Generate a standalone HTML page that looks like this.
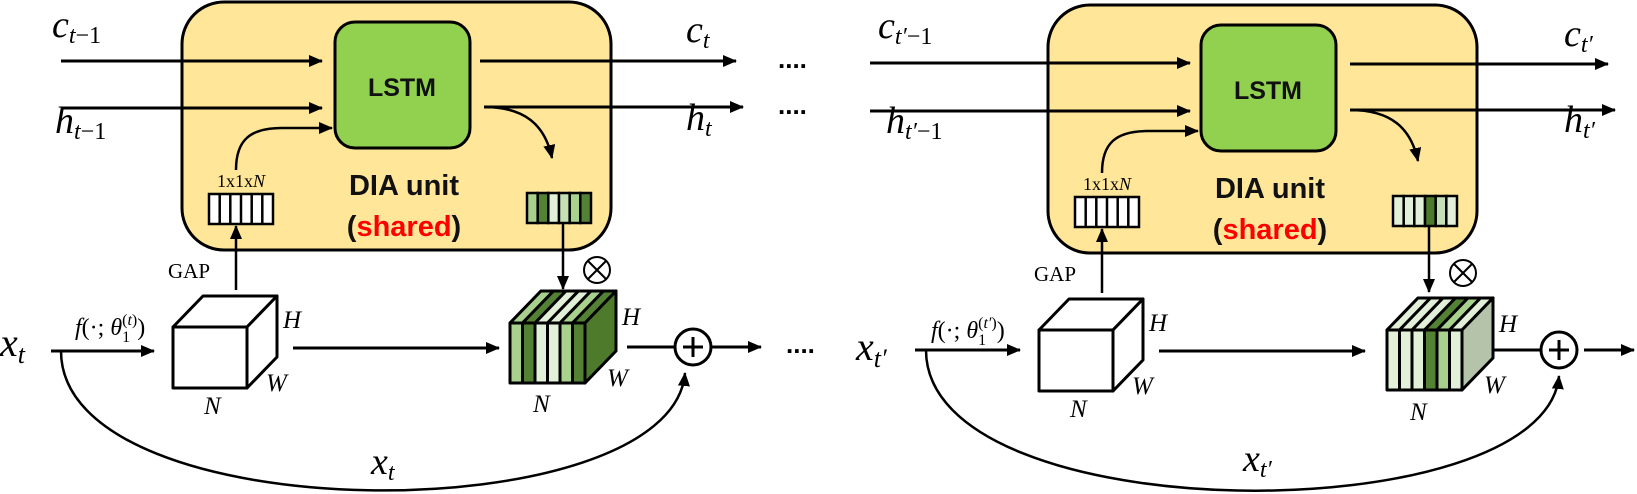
<!DOCTYPE html>
<html><head><meta charset="utf-8"><style>
html,body{margin:0;padding:0;background:#fff;}
svg{display:block;}
</style></head><body>
<svg width="1637" height="494" viewBox="0 0 1637 494" xmlns="http://www.w3.org/2000/svg">
<defs>
<marker id="ah2" markerWidth="14" markerHeight="12" refX="13" refY="6" orient="auto" markerUnits="userSpaceOnUse"><path d="M0,0 L14,6 L0,12 Z" fill="#000"/></marker>
</defs>

<g id="panelL">
<rect x="182" y="2" width="429" height="248" rx="42" fill="#FFE699" stroke="#000" stroke-width="3"/>
<rect x="335" y="22" width="135" height="126" rx="20" fill="#92D050" stroke="#000" stroke-width="3"/>
<text x="402" y="96" text-anchor="middle" font-family="Liberation Sans, sans-serif" font-weight="bold" font-size="25" fill="#111">LSTM</text>
<text x="404" y="195" text-anchor="middle" font-family="Liberation Sans, sans-serif" font-weight="bold" font-size="29" fill="#111">DIA unit</text>
<text x="404" y="236" text-anchor="middle" font-family="Liberation Sans, sans-serif" font-weight="bold" font-size="29" fill="#111">(<tspan fill="#FF0000">shared</tspan>)</text>
<text x="241" y="187" text-anchor="middle" font-family="Liberation Serif, DejaVu Serif, serif" font-size="18">1x1x<tspan font-style="italic">N</tspan></text>
<g stroke="#000" stroke-width="2.5">
<rect x="209" y="194" width="64" height="30" fill="#fff"/>
<line x1="219.7" y1="194" x2="219.7" y2="224"/><line x1="230.3" y1="194" x2="230.3" y2="224"/><line x1="241" y1="194" x2="241" y2="224"/><line x1="251.7" y1="194" x2="251.7" y2="224"/><line x1="262.3" y1="194" x2="262.3" y2="224"/>
</g>
<path d="M236,170 C236,140 250,128 282,128 L332,128" fill="none" stroke="#000" stroke-width="2.5" marker-end="url(#ah2)"/>
<path d="M484,107 C525,107 545,125 552,158" fill="none" stroke="#000" stroke-width="2.5" marker-end="url(#ah2)"/>
<path d="M236,290 L236,226" stroke="#000" stroke-width="2.5" marker-end="url(#ah2)"/>
<text x="168" y="278" font-family="Liberation Serif, DejaVu Serif, serif" font-size="21">GAP</text>
<path d="M563,224 L563,289" stroke="#000" stroke-width="2.5" marker-end="url(#ah2)"/>
<circle cx="597" cy="270" r="13" fill="none" stroke="#000" stroke-width="2"/>
<line x1="588" y1="261" x2="606" y2="279" stroke="#000" stroke-width="2"/><line x1="606" y1="261" x2="588" y2="279" stroke="#000" stroke-width="2"/>
<g stroke="#000" stroke-width="3" stroke-linejoin="round" fill="#fff">
<polygon points="173,327 203,296 277,296 247,327"/>
<polygon points="247,327 277,296 277,357 247,388"/>
<rect x="173" y="327" width="74" height="61"/>
</g>
<text x="283" y="328" font-family="Liberation Serif, DejaVu Serif, serif" font-style="italic" font-size="25">H</text>
<text x="266" y="391" font-family="Liberation Serif, DejaVu Serif, serif" font-style="italic" font-size="25">W</text>
<text x="204" y="414" font-family="Liberation Serif, DejaVu Serif, serif" font-style="italic" font-size="25">N</text>
<path d="M293,348 L499,348" stroke="#000" stroke-width="3" marker-end="url(#ah2)"/>
<line x1="627" y1="347" x2="675" y2="347" stroke="#000" stroke-width="3"/>
<circle cx="693" cy="347" r="18" fill="#fff" stroke="#000" stroke-width="3"/>
<line x1="683" y1="347" x2="703" y2="347" stroke="#000" stroke-width="3"/><line x1="693" y1="337" x2="693" y2="357" stroke="#000" stroke-width="3"/>
</g>

<g stroke="#000" stroke-width="2.5">
<rect x="527" y="193" width="10.7" height="30" fill="#A9D18E"/>
<rect x="537.7" y="193" width="10.7" height="30" fill="#548235"/>
<rect x="548.3" y="193" width="10.7" height="30" fill="#E2F0D9"/>
<rect x="559" y="193" width="10.7" height="30" fill="#C5E0B4"/>
<rect x="569.7" y="193" width="10.7" height="30" fill="#A9D18E"/>
<rect x="580.3" y="193" width="10.7" height="30" fill="#548235"/>
</g>
<g stroke="#000" stroke-width="3" stroke-linejoin="round">
<polygon points="510,323 541,291 616,291 585,323" fill="#fff"/>
<polygon points="510,323 541,291 553.5,291 522.5,323" fill="#A9D18E"/>
<polygon points="522.5,323 553.5,291 566,291 535,323" fill="#548235"/>
<polygon points="535,323 566,291 578.5,291 547.5,323" fill="#E2F0D9"/>
<polygon points="547.5,323 578.5,291 591,291 560,323" fill="#E2F0D9"/>
<polygon points="560,323 591,291 603.5,291 572.5,323" fill="#A9D18E"/>
<polygon points="572.5,323 603.5,291 616,291 585,323" fill="#548235"/>
<polygon points="585,323 616,291 616,351 585,383" fill="#4E7A2C"/>
<rect x="510" y="323" width="12.5" height="60" fill="#A9D18E"/>
<rect x="522.5" y="323" width="12.5" height="60" fill="#548235"/>
<rect x="535" y="323" width="12.5" height="60" fill="#E2F0D9"/>
<rect x="547.5" y="323" width="12.5" height="60" fill="#E2F0D9"/>
<rect x="560" y="323" width="12.5" height="60" fill="#A9D18E"/>
<rect x="572.5" y="323" width="12.5" height="60" fill="#548235"/>
</g>
<text x="622" y="325" font-family="Liberation Serif, DejaVu Serif, serif" font-style="italic" font-size="25">H</text>
<text x="607" y="386" font-family="Liberation Serif, DejaVu Serif, serif" font-style="italic" font-size="25">W</text>
<text x="533" y="412" font-family="Liberation Serif, DejaVu Serif, serif" font-style="italic" font-size="25">N</text>

<path d="M61,61 L322,61" stroke="#000" stroke-width="3" marker-end="url(#ah2)"/>
<path d="M61,108 L322,108" stroke="#000" stroke-width="3" marker-end="url(#ah2)"/>
<path d="M480,61 L736,61" stroke="#000" stroke-width="3" marker-end="url(#ah2)"/>
<path d="M484,107 L743,107" stroke="#000" stroke-width="3" marker-end="url(#ah2)"/>
<g font-family="Liberation Serif, DejaVu Serif, serif" font-style="italic">
<text x="52" y="37" font-size="38">c<tspan font-size="24" dy="6">t</tspan><tspan font-size="24" font-style="normal">−1</tspan></text>
<text x="55" y="133" font-size="38">h<tspan font-size="24" dy="6">t</tspan><tspan font-size="24" font-style="normal">−1</tspan></text>
<text x="686" y="42" font-size="38">c<tspan font-size="24" dy="6">t</tspan></text>
<text x="686" y="130" font-size="38">h<tspan font-size="24" dy="6">t</tspan></text>
<text x="0" y="356" font-size="40">x<tspan font-size="26" dy="7">t</tspan></text>
<text x="75" y="335" font-size="24">f<tspan font-style="normal">(·;</tspan> θ<tspan font-size="16" dy="7" font-style="normal">1</tspan><tspan font-size="16" dx="-8" dy="-17" font-style="normal">(</tspan><tspan font-size="16" dy="0">t</tspan><tspan font-size="16" font-style="normal">)</tspan><tspan font-style="normal" dy="10">)</tspan></text>
<text x="371" y="474" font-size="38">x<tspan font-size="24" dy="6">t</tspan></text>
</g>
<text x="778" y="68" font-family="Liberation Sans, sans-serif" font-weight="bold" font-size="26">....</text>
<text x="778" y="114" font-family="Liberation Sans, sans-serif" font-weight="bold" font-size="26">....</text>
<path d="M51,351 L154,351" stroke="#000" stroke-width="3" marker-end="url(#ah2)"/>
<path d="M61,351 C61,533 672,533 685,373" fill="none" stroke="#000" stroke-width="2.5" marker-end="url(#ah2)"/>
<path d="M711,347 L761,347" stroke="#000" stroke-width="3" marker-end="url(#ah2)"/>
<text x="786" y="353" font-family="Liberation Sans, sans-serif" font-weight="bold" font-size="26">....</text>

<use href="#panelL" transform="translate(866,3)"/>
<g stroke="#000" stroke-width="2.5" transform="translate(866,3)">
<rect x="527" y="193" width="10.7" height="30" fill="#E2F0D9"/>
<rect x="537.7" y="193" width="10.7" height="30" fill="#E2F0D9"/>
<rect x="548.3" y="193" width="10.7" height="30" fill="#E2F0D9"/>
<rect x="559" y="193" width="10.7" height="30" fill="#4E7A2C"/>
<rect x="569.7" y="193" width="10.7" height="30" fill="#C5E0B4"/>
<rect x="580.3" y="193" width="10.7" height="30" fill="#E2F0D9"/>
</g>
<g stroke="#000" stroke-width="3" stroke-linejoin="round" transform="translate(877,7)">
<polygon points="510,323 541,291 616,291 585,323" fill="#fff"/>
<polygon points="510,323 541,291 553.5,291 522.5,323" fill="#E2F0D9"/>
<polygon points="522.5,323 553.5,291 566,291 535,323" fill="#E2F0D9"/>
<polygon points="535,323 566,291 578.5,291 547.5,323" fill="#E2F0D9"/>
<polygon points="547.5,323 578.5,291 591,291 560,323" fill="#548235"/>
<polygon points="560,323 591,291 603.5,291 572.5,323" fill="#A9D18E"/>
<polygon points="572.5,323 603.5,291 616,291 585,323" fill="#E2F0D9"/>
<polygon points="585,323 616,291 616,351 585,383" fill="#B4C3A9"/>
<rect x="510" y="323" width="12.5" height="60" fill="#E2F0D9"/>
<rect x="522.5" y="323" width="12.5" height="60" fill="#E2F0D9"/>
<rect x="535" y="323" width="12.5" height="60" fill="#E2F0D9"/>
<rect x="547.5" y="323" width="12.5" height="60" fill="#548235"/>
<rect x="560" y="323" width="12.5" height="60" fill="#A9D18E"/>
<rect x="572.5" y="323" width="12.5" height="60" fill="#E2F0D9"/>
</g>
<g font-family="Liberation Serif, DejaVu Serif, serif" font-style="italic">
<text x="1499" y="332" font-size="25">H</text>
<text x="1484" y="393" font-size="25">W</text>
<text x="1410" y="420" font-size="25">N</text>
<text x="878" y="38" font-size="38">c<tspan font-size="24" dy="6">t′</tspan><tspan font-size="24" font-style="normal">−1</tspan></text>
<text x="886" y="133" font-size="38">h<tspan font-size="24" dy="6">t′</tspan><tspan font-size="24" font-style="normal">−1</tspan></text>
<text x="1564" y="46" font-size="38">c<tspan font-size="24" dy="6">t′</tspan></text>
<text x="1564" y="132" font-size="38">h<tspan font-size="24" dy="6">t′</tspan></text>
<text x="856" y="360" font-size="40">x<tspan font-size="26" dy="7">t′</tspan></text>
<text x="931" y="338" font-size="24">f<tspan font-style="normal">(·;</tspan> θ<tspan font-size="16" dy="7" font-style="normal">1</tspan><tspan font-size="16" dx="-8" dy="-17" font-style="normal">(</tspan><tspan font-size="16" dy="0">t′</tspan><tspan font-size="16" font-style="normal">)</tspan><tspan font-style="normal" dy="10">)</tspan></text>
<text x="1243" y="471" font-size="38">x<tspan font-size="24" dy="6">t′</tspan></text>
</g>
<path d="M870,63 L1190,63" stroke="#000" stroke-width="3" marker-end="url(#ah2)"/>
<path d="M870,111 L1190,111" stroke="#000" stroke-width="3" marker-end="url(#ah2)"/>
<path d="M1350,64 L1608,64" stroke="#000" stroke-width="3" marker-end="url(#ah2)"/>
<path d="M1350,110 L1615,110" stroke="#000" stroke-width="3" marker-end="url(#ah2)"/>
<path d="M915,350 L1020,350" stroke="#000" stroke-width="3" marker-end="url(#ah2)"/>
<path d="M926,350 C926,533 1545,533 1559,376" fill="none" stroke="#000" stroke-width="2.5" marker-end="url(#ah2)"/>
<path d="M1584,350 L1634,350" stroke="#000" stroke-width="3" marker-end="url(#ah2)"/>
</svg>
</body></html>
